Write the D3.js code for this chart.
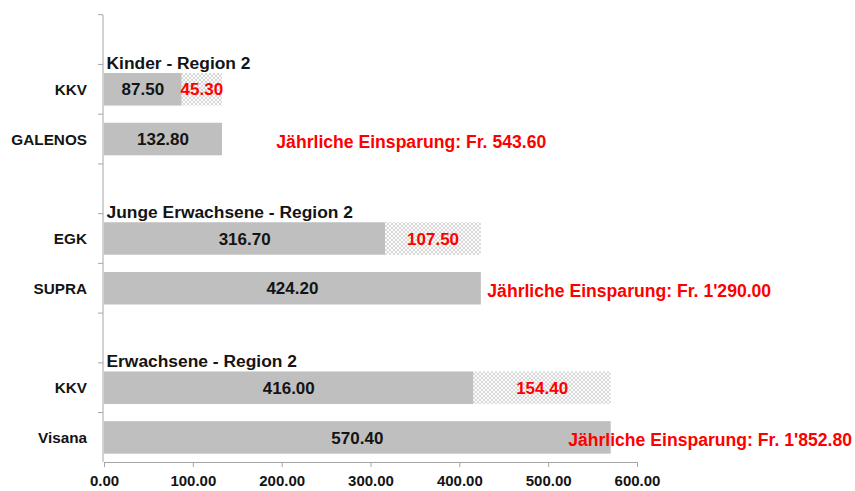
<!DOCTYPE html>
<html>
<head>
<meta charset="utf-8">
<script src="https://cdn.jsdelivr.net/npm/d3@7"></script>
<style>
  body { margin: 0; background: #fff; }
  text { font-family: "Liberation Sans", Arial, sans-serif; font-weight: bold; }
</style>
</head>
<body>
<div id="chart"></div>
<script>
const WIDTH = 855;
const HEIGHT = 491;
const MARGIN = { left: 104, top: 15, right: 218, bottom: 29 };

// slots on the y axis, top to bottom ("" = empty slot)
const slots = ["s0", "kkv1", "galenos", "s3", "egk", "supra", "s6", "kkv2", "visana"];
const slotLabels = ["", "KKV", "GALENOS", "", "EGK", "SUPRA", "", "KKV", "Visana"];

// bars
const barSlots = ["kkv1", "galenos", "egk", "supra", "kkv2", "visana"];
const baseValues = [87.50, 132.80, 316.70, 424.20, 416.00, 570.40];
const diffValues = [45.30, 0, 107.50, 0, 154.40, 0];

// group headers
const groupTitles = ["Kinder - Region 2", "Junge Erwachsene - Region 2", "Erwachsene - Region 2"];
const groupSlots = ["kkv1", "egk", "kkv2"];

// yearly savings notes
const savingTexts = ["Jährliche Einsparung: Fr. 543.60", "Jährliche Einsparung: Fr. 1'290.00", "Jährliche Einsparung: Fr. 1'852.80"];
const savingSlots = ["galenos", "supra", "visana"];
const savingX = [194, 431.5, 522.5]; // left edge, in axis units

const xTicks = [0, 100, 200, 300, 400, 500, 600];

const svg = d3.select("#chart").append("svg")
  .attr("width", WIDTH).attr("height", HEIGHT);

const defs = svg.append("defs");
const pat = defs.append("pattern")
  .attr("id", "hatch").attr("patternUnits", "userSpaceOnUse")
  .attr("width", 4).attr("height", 4);
pat.append("rect").attr("width", 4).attr("height", 4).attr("fill", "#fcfcfc");
pat.append("path").attr("d", "M0,0 L4,4 M4,0 L0,4")
  .attr("stroke", "#d4d4d4").attr("stroke-width", 0.9);

const x = d3.scaleLinear().domain([0, 600])
  .range([MARGIN.left, WIDTH - MARGIN.right]);
const y = d3.scaleBand().domain(slots)
  .range([MARGIN.top, HEIGHT - MARGIN.bottom])
  .paddingInner(0.346).paddingOuter(0.167);

const bars = barSlots.map((s, i) => ({ slot: s, base: baseValues[i], diff: diffValues[i] }));

// base bars
svg.append("g").selectAll("rect").data(bars).enter().append("rect")
  .attr("x", x(0))
  .attr("y", d => y(d.slot))
  .attr("width", d => x(d.base) - x(0))
  .attr("height", y.bandwidth())
  .attr("fill", "#bfbfbf");

// difference bars (hatched)
svg.append("g").selectAll("rect").data(bars.filter(d => d.diff > 0)).enter().append("rect")
  .attr("x", d => x(d.base))
  .attr("y", d => y(d.slot))
  .attr("width", d => x(d.base + d.diff) - x(d.base))
  .attr("height", y.bandwidth())
  .attr("fill", "url(#hatch)");

// value labels
svg.append("g").selectAll("text").data(bars).enter().append("text")
  .attr("x", d => (x(0) + x(d.base)) / 2)
  .attr("y", d => y(d.slot) + y.bandwidth() / 2)
  .attr("dy", "0.36em")
  .attr("text-anchor", "middle")
  .attr("font-size", 17)
  .attr("fill", "#141414")
  .text(d => d.base.toFixed(2));

svg.append("g").selectAll("text").data(bars.filter(d => d.diff > 0)).enter().append("text")
  .attr("x", d => (x(d.base) + x(d.base + d.diff)) / 2)
  .attr("y", d => y(d.slot) + y.bandwidth() / 2)
  .attr("dy", "0.36em")
  .attr("text-anchor", "middle")
  .attr("font-size", 17)
  .attr("fill", "#ff0000")
  .text(d => d.diff.toFixed(2));

// group titles
svg.append("g").selectAll("text").data(groupTitles).enter().append("text")
  .attr("x", x(0) + 2.5)
  .attr("y", (d, i) => y(groupSlots[i]) - 4)
  .attr("font-size", 17.4)
  .attr("fill", "#141414")
  .text(d => d);

// savings notes
svg.append("g").selectAll("text").data(savingTexts).enter().append("text")
  .attr("x", (d, i) => x(savingX[i]))
  .attr("y", (d, i) => y(savingSlots[i]) + y.bandwidth() / 2 + 2.5)
  .attr("dy", "0.36em")
  .attr("font-size", 17.6)
  .attr("fill", "#ff0000")
  .text(d => d);

// y axis
const yAxis = svg.append("g");
yAxis.append("line")
  .attr("x1", x(0) - 1).attr("x2", x(0) - 1)
  .attr("y1", MARGIN.top).attr("y2", HEIGHT - MARGIN.bottom)
  .attr("stroke", "#a6a6a6");
const gap = (y.step() - y.bandwidth()) / 2;
const tickYs = slots.map(s => y(s) - gap);
yAxis.selectAll(".ytick").data(tickYs).enter().append("line")
  .attr("x1", x(0) - 6).attr("x2", x(0) - 1)
  .attr("y1", d => d).attr("y2", d => d)
  .attr("stroke", "#a6a6a6");
yAxis.selectAll("text").data(slots.filter((s, i) => slotLabels[i] !== "")).enter().append("text")
  .attr("x", x(0) - 17)
  .attr("y", d => y(d) + y.bandwidth() / 2)
  .attr("dy", "0.36em")
  .attr("text-anchor", "end")
  .attr("font-size", 15.3)
  .attr("fill", "#141414")
  .text(d => slotLabels[slots.indexOf(d)]);

// x axis
const xAxis = svg.append("g")
  .attr("transform", "translate(0," + (HEIGHT - MARGIN.bottom) + ")")
  .call(d3.axisBottom(x).tickValues(xTicks).tickSize(5).tickPadding(8).tickFormat(d3.format(".2f")));
xAxis.select(".domain").attr("stroke", "#a6a6a6");
xAxis.selectAll(".tick line").attr("stroke", "#a6a6a6");
xAxis.selectAll(".tick text")
  .attr("font-size", 15)
  .attr("fill", "#141414")
  .style("font-family", "'Liberation Sans', Arial, sans-serif")
  .style("font-weight", "bold");
</script>
</body>
</html>
